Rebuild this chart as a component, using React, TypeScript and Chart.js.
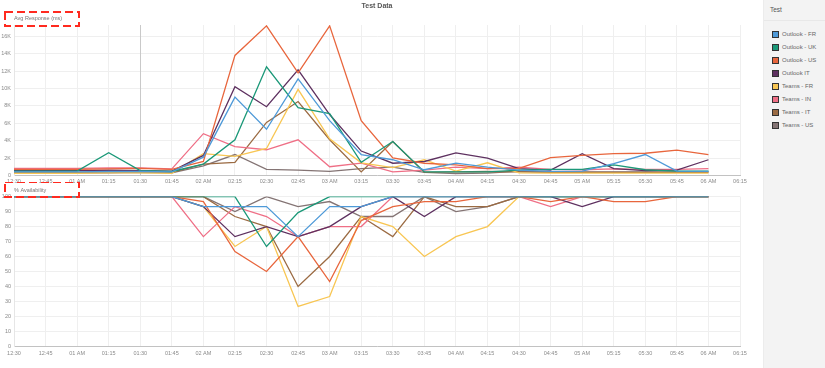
import React, { useEffect, useRef } from 'react';
import { Chart, registerables } from 'chart.js';

Chart.register(...registerables);

const FONT = "'Liberation Sans', Arial, sans-serif";

const timeLabels = ['12:30', '12:45', '01 AM', '01:15', '01:30', '01:45', '02 AM', '02:15', '02:30', '02:45', '03 AM', '03:15', '03:30', '03:45', '04 AM', '04:15', '04:30', '04:45', '05 AM', '05:15', '05:30', '05:45', '06 AM', '06:15'];

const seriesNames = ['Outlook - FR', 'Outlook - UK', 'Outlook - US', 'Outlook IT', 'Teams - FR', 'Teams - IN', 'Teams - IT', 'Teams - US'];
const seriesColors = ['#4f9ad8', '#1b9878', '#e8663d', '#5e3160', '#f8c653', '#ef6f86', '#9b6b43', '#847474'];

// Avg Response (ms)
const respOutlookFR = [400, 400, 400, 450, 450, 400, 2100, 9000, 5300, 11100, 6300, 2400, 1800, 650, 1400, 950, 600, 460, 500, 1350, 2400, 500, 460];
const respOutlookUK = [500, 500, 500, 2600, 550, 450, 1300, 4100, 12500, 7800, 7100, 1500, 3900, 400, 400, 400, 600, 700, 700, 1200, 650, 500, 500];
const respOutlookUS = [700, 700, 700, 750, 800, 700, 1600, 13800, 17200, 11800, 17200, 6300, 2000, 1400, 1200, 770, 800, 2050, 2300, 2500, 2550, 2900, 2400];
const respOutlookIT = [550, 550, 550, 600, 550, 500, 2300, 10200, 7900, 12150, 7000, 2800, 1400, 1600, 2600, 2000, 770, 600, 2500, 770, 550, 600, 1800];
const respTeamsFR = [250, 250, 250, 300, 300, 250, 2500, 2200, 3100, 9900, 4200, 1450, 900, 1800, 500, 1450, 300, 270, 270, 270, 270, 270, 270];
const respTeamsIN = [800, 800, 800, 850, 850, 750, 4800, 3300, 2950, 4100, 1000, 1400, 400, 600, 950, 770, 950, 700, 650, 750, 700, 700, 770];
const respTeamsIT = [350, 350, 350, 400, 400, 350, 1300, 1500, 6100, 8500, 4100, 400, 3900, 350, 400, 450, 400, 350, 350, 350, 350, 350, 350];
const respTeamsUS = [300, 300, 300, 300, 350, 300, 1100, 2400, 700, 600, 460, 770, 950, 350, 200, 270, 500, 400, 400, 400, 400, 400, 400];

// % Availability
const availOutlookFR = [100, 100, 100, 100, 100, 100, 93.3, 93.3, 93.3, 73.3, 93.3, 93.3, 100, 100, 100, 100, 100, 100, 100, 100, 100, 100, 100];
const availOutlookUK = [100, 100, 100, 100, 100, 100, 100, 100, 66.7, 89.3, 100, 100, 100, 100, 100, 100, 100, 100, 100, 100, 100, 100, 100];
const availOutlookUS = [100, 100, 100, 100, 100, 100, 96.7, 63.3, 50, 73.3, 43.3, 84, 93.3, 96.7, 96.7, 100, 100, 96.7, 100, 96.7, 96.7, 100, 100];
const availOutlookIT = [100, 100, 100, 100, 100, 100, 93.3, 73.3, 80, 73.3, 80, 93.3, 100, 86.7, 100, 100, 100, 100, 93.3, 100, 100, 100, 100];
const availTeamsFR = [100, 100, 100, 100, 100, 100, 93.3, 66.7, 80, 26.7, 33.3, 86.7, 80, 60, 73.3, 80, 100, 100, 100, 100, 100, 100, 100];
const availTeamsIN = [100, 100, 100, 100, 100, 100, 73.3, 93.3, 86.7, 73.3, 80, 80, 100, 100, 100, 100, 100, 93.3, 100, 100, 100, 100, 100];
const availTeamsIT = [100, 100, 100, 100, 100, 100, 100, 86.7, 80, 40, 60, 86.7, 73.3, 100, 93.3, 93.3, 100, 100, 100, 100, 100, 100, 100];
const availTeamsUS = [100, 100, 100, 100, 100, 100, 100, 90, 100, 93.3, 96.7, 86.7, 86.7, 100, 90, 93.3, 100, 100, 100, 100, 100, 100, 100];

const respSeries = [respOutlookFR, respOutlookUK, respOutlookUS, respOutlookIT, respTeamsFR, respTeamsIN, respTeamsIT, respTeamsUS];
const availSeries = [availOutlookFR, availOutlookUK, availOutlookUS, availOutlookIT, availTeamsFR, availTeamsIN, availTeamsIT, availTeamsUS];

const respTicks = [0, 2000, 4000, 6000, 8000, 10000, 12000, 14000, 16000];

const redBoxPlugin = {
  id: 'redBox',
  afterDraw(chart: any, _args: any, opts: any) {
    if (!opts || !opts.rect) return;
    const ctx = chart.ctx;
    const [x, y, w, h] = opts.rect;
    ctx.save();
    ctx.strokeStyle = '#ff2a1f';
    ctx.lineWidth = 2;
    ctx.setLineDash([8, 4]);
    ctx.strokeRect(x, y, w, h);
    ctx.restore();
  },
};

const markerPlugin = {
  id: 'marker',
  beforeDatasetsDraw(chart: any, _args: any, opts: any) {
    if (!opts || opts.index === undefined) return;
    const ctx = chart.ctx;
    const x = chart.scales.x.getPixelForValue(opts.index);
    ctx.save();
    ctx.strokeStyle = '#c9c9c9';
    ctx.lineWidth = 1;
    ctx.beginPath();
    ctx.moveTo(Math.round(x) + 0.5, chart.chartArea.top);
    ctx.lineTo(Math.round(x) + 0.5, chart.chartArea.bottom);
    ctx.stroke();
    ctx.restore();
  },
};

function makeDatasets(series: number[][]) {
  return series.map((data, i) => ({
    label: seriesNames[i],
    data,
    borderColor: seriesColors[i],
    backgroundColor: seriesColors[i],
    borderWidth: 1.3,
    pointRadius: 0,
    tension: 0,
    fill: false,
  }));
}

const tickFont = { family: FONT, size: 5.5 };

function xScale(pad: number) {
  return {
    type: 'category' as const,
    offset: false,
    grid: { color: '#efefef', drawTicks: false },
    border: { color: '#c2c2c2' },
    ticks: { font: tickFont, color: '#8a8a8a', maxRotation: 0, autoSkip: false, padding: pad },
  };
}

export default function App() {
  const topRef = useRef<HTMLCanvasElement | null>(null);
  const botRef = useRef<HTMLCanvasElement | null>(null);

  useEffect(() => {
    document.body.style.margin = '0';
    const top = new Chart(topRef.current as HTMLCanvasElement, {
      type: 'line',
      data: { labels: timeLabels, datasets: makeDatasets(respSeries) as any },
      plugins: [redBoxPlugin, markerPlugin],
      options: {
        responsive: false,
        animation: false,
        layout: { padding: { left: 0, right: 22, top: 0, bottom: 0 } },
        scales: {
          x: xScale(3) as any,
          y: {
            min: 0,
            max: 17300,
            grid: { color: '#efefef', drawTicks: false },
            border: { color: '#e6e6e6' },
            afterFit(scale: any) { scale.width = 14; },
            afterBuildTicks(scale: any) { scale.ticks = respTicks.map((v) => ({ value: v })); },
            ticks: {
              font: tickFont,
              color: '#8a8a8a',
              padding: 3,
              callback: (v: any) => (Number(v) === 0 ? '0' : Number(v) / 1000 + 'K'),
            },
          } as any,
        },
        plugins: {
          legend: { display: false },
          tooltip: { enabled: false },
          title: {
            display: true,
            text: 'Test Data',
            fullSize: false,
            color: '#555',
            font: { family: FONT, size: 7, weight: 'bold' },
            padding: { top: 2, bottom: 2 },
          },
          subtitle: {
            display: true,
            text: 'Avg Response (ms)',
            fullSize: false,
            align: 'start',
            color: '#777',
            font: { family: FONT, size: 5.5 },
            padding: { top: 3, bottom: 3 },
          },
          redBox: { rect: [5, 12, 74, 14] },
          marker: { index: 4 },
        } as any,
      },
    });

    const bot = new Chart(botRef.current as HTMLCanvasElement, {
      type: 'line',
      data: { labels: timeLabels, datasets: makeDatasets(availSeries) as any },
      plugins: [redBoxPlugin],
      options: {
        responsive: false,
        animation: false,
        layout: { padding: { left: 0, right: 22, top: 0, bottom: 7 } },
        scales: {
          x: xScale(4) as any,
          y: {
            min: 0,
            max: 100,
            grid: { color: '#efefef', drawTicks: false },
            border: { color: '#e6e6e6' },
            afterFit(scale: any) { scale.width = 14; },
            ticks: { font: tickFont, color: '#8a8a8a', padding: 3, stepSize: 10 },
          } as any,
        },
        plugins: {
          legend: { display: false },
          tooltip: { enabled: false },
          subtitle: {
            display: true,
            text: '% Availability',
            fullSize: false,
            align: 'start',
            color: '#777',
            font: { family: FONT, size: 5.5 },
            padding: { top: 5, bottom: 3 },
          },
          redBox: { rect: [5, 0, 74, 15] },
        } as any,
      },
    });

    return () => {
      top.destroy();
      bot.destroy();
    };
  }, []);

  return (
    <div style={{ position: 'relative', width: 825, height: 368, background: '#fff', overflow: 'hidden', fontFamily: FONT }}>
      <canvas ref={topRef} width={762} height={188} style={{ position: 'absolute', left: 0, top: 0 }} />
      <canvas ref={botRef} width={762} height={186} style={{ position: 'absolute', left: 0, top: 182 }} />
      <div style={{ position: 'absolute', left: 763, top: 0, width: 62, height: 368, background: '#f3f3f3', borderLeft: '1px solid #ececec', boxSizing: 'border-box' }}>
        <div style={{ position: 'absolute', left: 6, top: 6, fontSize: 6.5, color: '#555', lineHeight: '8px' }}>Test</div>
        <div style={{ position: 'absolute', left: 0, top: 20, width: 62, height: 1, background: '#e8e8e8' }} />
        {seriesNames.map((name, i) => (
          <div key={name} style={{ position: 'absolute', left: 8, top: 30 + i * 13, height: 8, display: 'flex', alignItems: 'center' }}>
            <span style={{ display: 'inline-block', width: 5, height: 5, background: seriesColors[i], border: '0.8px solid #333', marginRight: 3 }} />
            <span style={{ fontSize: 6, color: '#666', lineHeight: '8px', whiteSpace: 'nowrap' }}>{name}</span>
          </div>
        ))}
      </div>
    </div>
  );
}
